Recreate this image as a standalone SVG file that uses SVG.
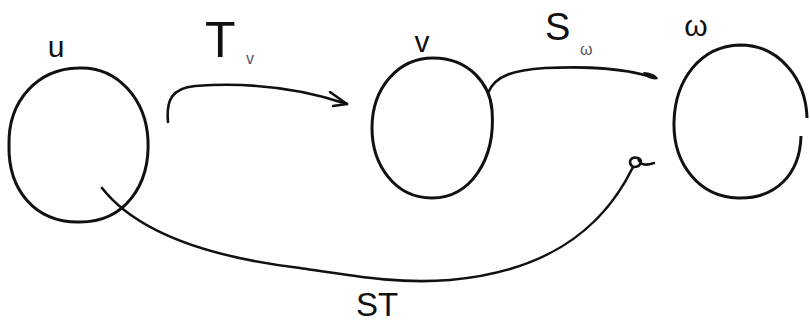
<svg xmlns="http://www.w3.org/2000/svg" width="810" height="325" viewBox="0 0 810 325">
<style>
.node{fill:none;stroke:#111;stroke-width:3}
.edge{fill:none;stroke:#111;stroke-width:2.6;stroke-linecap:round;stroke-linejoin:round}
.lbl{font-family:"Liberation Sans",Arial,sans-serif;fill:#111}
.sub{font-family:"Liberation Sans",Arial,sans-serif;fill:#556;font-size:16px}
</style>
<rect width="810" height="325" fill="#fff"/>
<g id="node-u">
<path class="node" d="M78,68 C118,66 146,100 148,140 C150,185 125,222 80,222 C35,223 8,190 9,145 C8,100 38,69 78,68 Z"/>
<text class="lbl" x="56" y="57" font-size="30" text-anchor="middle">u</text>
</g>
<g id="node-v">
<path class="node" d="M433,58 C470,58 490,85 492,110 C496,160 470,198 432,198 C395,198 372,165 372,128 C372,88 398,58 433,58 Z"/>
<text class="lbl" x="422" y="52" font-size="30" text-anchor="middle">v</text>
</g>
<g id="node-w">
<path class="node" d="M801,136 C800,175 775,199 738,198 C700,197 673,165 674,122 C675,80 700,46 740,45 C780,45 806,80 807,118"/>
<text class="lbl" x="696" y="36" font-size="30" text-anchor="middle">ω</text>
</g>
<g id="connectors">
<path class="edge" d="M168,122 C166,100 172,88 195,86 C250,82 300,88 347,104"/>
<path class="edge" d="M330,92 L347,104 L333,106"/>
<path class="edge" d="M488,93 C495,75 515,70 545,68 C590,66 625,68 655,78"/>
<path d="M643,72 C650,72 657,75 658,79 C652,80 645,78 643,72 Z" fill="#111"/>
<path class="edge" d="M102,188 C135,230 200,256 300,268 C360,277 400,284 450,280 C540,272 600,235 633,167"/>
<path class="edge" d="M633,167 C627,162 631,156 638,158 C643,160 641,167 634,167 M638,158 C640,165 645,166 654,163" stroke-width="2.8"/>
</g>
<g id="labels">
<text class="lbl" x="205" y="57" font-size="50">T</text>
<text class="sub" x="246" y="64">v</text>
<text class="lbl" x="545" y="40" font-size="38">S</text>
<text class="sub" x="580" y="55">ω</text>
<text class="lbl" x="356" y="316" font-size="33">ST</text>
</g>
</svg>
